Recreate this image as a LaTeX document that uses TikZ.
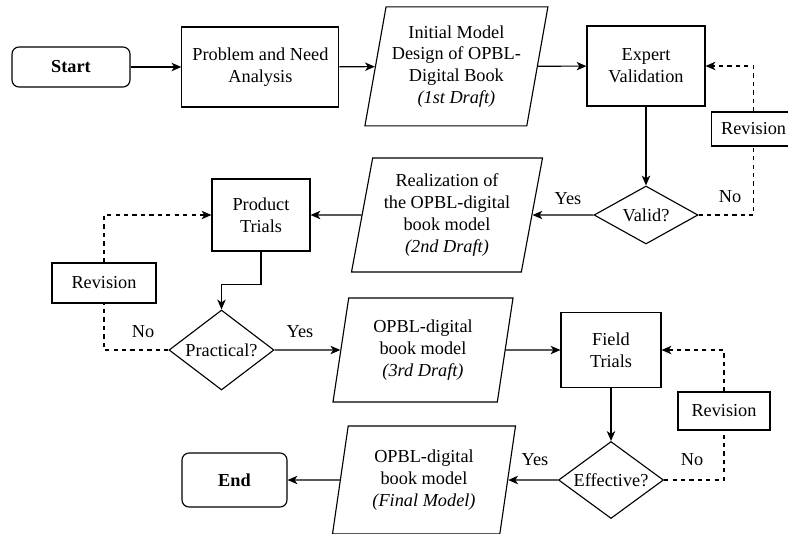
\documentclass[tikz,border=0pt]{standalone}
\usepackage{fontspec}
\setmainfont{Liberation Serif}
\usetikzlibrary{arrows.meta,shapes.geometric}

\begin{document}
\begin{tikzpicture}[
  font=\fontsize{13}{15.5}\selectfont,
  term/.style={draw, rounded corners=5pt, line width=0.8pt, font=\fontsize{13}{15.5}\selectfont\bfseries},
  proc/.style={draw, line width=0.8pt, align=center},
  io/.style={draw, trapezium, trapezium left angle=76, trapezium right angle=104, trapezium stretches body, line width=0.8pt, align=center, inner sep=1pt},
  decision/.style={draw, diamond, shape aspect=1.8, inner sep=0pt, line width=0.8pt},
  rev/.style={draw, line width=0.8pt},
  arrow/.style={-{Stealth[length=7pt, width=6pt, inset=2pt]}, line width=0.8pt},
  loop/.style={dashed, line width=0.8pt},
  tag/.style={inner sep=0pt}
]
\useasboundingbox (0,0) rectangle (19.7,-13.325);

% Top row
\node[term, minimum width=2.95cm, minimum height=1cm] (start) at (1.775,-1.675) {Start};
\node[proc, minimum width=3.925cm, minimum height=2cm] (problem) at (6.51,-1.675) {Problem and Need\\Analysis};
\node[io, minimum width=4.575cm, minimum height=2.975cm] (draft1) at (11.41,-1.66) {Initial Model\\Design of OPBL-\\Digital Book\\\textit{(1st Draft)}};
\node[proc, minimum width=2.95cm, minimum height=2cm] (expert) at (16.15,-1.65) {Expert\\Validation};

% Second row
\node[decision, minimum width=2.6cm, minimum height=1.45cm] (valid) at (16.15,-5.375) {Valid?};
\node[rev, minimum width=2.1cm, minimum height=0.85cm, inner sep=2pt] (rev1) at (18.84,-3.225) {Revision};
\node[io, minimum width=4.775cm, minimum height=2.85cm] (draft2) at (11.175,-5.375) {Realization of\\the OPBL-digital\\book model\\\textit{(2nd Draft)}};
\node[proc, minimum width=2.45cm, minimum height=1.8cm] (product) at (6.525,-5.375) {Product\\Trials};
\node[rev, minimum width=2.6cm, minimum height=1cm] (rev2) at (2.6,-7.075) {Revision};

% Third row
\node[decision, minimum width=2.625cm, minimum height=2cm] (practical) at (5.5375,-8.75) {Practical?};
\node[io, minimum width=4.5cm, minimum height=2.6cm] (draft3) at (10.575,-8.75) {OPBL-digital\\book model\\\textit{(3rd Draft)}};
\node[proc, minimum width=2.5cm, minimum height=1.875cm] (field) at (15.275,-8.75) {Field\\Trials};
\node[rev, minimum width=2.3cm, minimum height=0.95cm] (rev3) at (18.1,-10.275) {Revision};

% Bottom row
\node[decision, minimum width=2.625cm, minimum height=1.925cm] (effective) at (15.275,-12) {Effective?};
\node[io, minimum width=4.575cm, minimum height=2.7cm] (final) at (10.6,-12) {OPBL-digital\\book model\\\textit{(Final Model)}};
\node[term, minimum width=2.625cm, minimum height=1.35cm] (end) at (5.8625,-12) {End};

% Main flow
\draw[arrow] (start) -- (problem);
\draw[arrow] (problem) -- (draft1);
\draw[arrow] (draft1) -- (expert);
\draw[arrow] (expert) -- (valid);
\draw[arrow] (valid) -- (draft2);
\draw[arrow] (draft2) -- (product);
\draw[arrow] (product.south) -- ++(0,-0.825) -| (practical.north);
\draw[arrow] (practical) -- (draft3);
\draw[arrow] (draft3) -- (field);
\draw[arrow] (field) -- (effective);
\draw[arrow] (effective) -- (final);
\draw[arrow] (final) -- (end);

% Revision loops
\draw[loop] (valid.east) -| (rev1.south);
\draw[loop, arrow] (rev1.north) |- (expert.east);
\draw[loop] (practical.west) -| (rev2.south);
\draw[loop, arrow] (rev2.north) |- (product.west);
\draw[loop] (effective.east) -| (rev3.south);
\draw[loop, arrow] (rev3.north) |- (field.east);

% Labels
\node[tag] (yes1) at (14.2,-4.975) {Yes};
\node[tag] (no1) at (18.25,-4.925) {No};
\node[tag] (no2) at (3.575,-8.3) {No};
\node[tag] (yes2) at (7.5,-8.3) {Yes};
\node[tag] (yes3) at (13.375,-11.5) {Yes};
\node[tag] (no3) at (17.3,-11.5) {No};

\end{tikzpicture}
\end{document}
